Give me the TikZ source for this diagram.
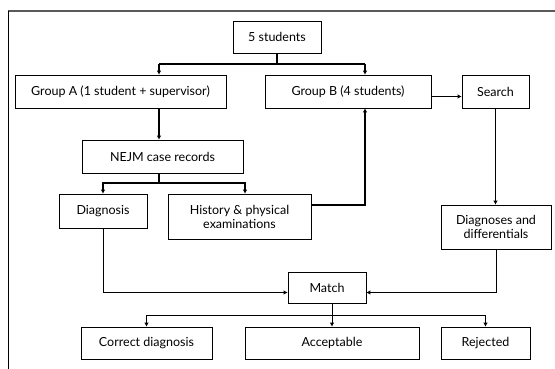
\documentclass[tikz,border=0pt]{standalone}
\usepackage{fontspec}
\setmainfont{Lato}
\usetikzlibrary{arrows.meta,shadows}
\tikzset{
	box/.style={draw, fill=white, line width=0.6pt, align=center, inner sep=1pt,
		font=\fontsize{12.5}{14}\selectfont,
		drop shadow={shadow xshift=0.9pt, shadow yshift=-0.9pt, fill=black, opacity=1}},
	heavy/.style={line width=1.7pt},
	light/.style={line width=0.8pt},
	tip/.style={-{Latex[length=4pt,width=4.5pt]}},
}
\begin{document}
\begin{tikzpicture}[x=1pt,y=-1pt]
			\useasboundingbox (0,0) rectangle (555,369);
			\draw[black!65, line width=1.2pt] (555,11) -- (8,11);
			\draw[line width=1pt] (8,11) -- (8,369);
			\node[box, minimum width=88pt, minimum height=32pt] (students) at (277,37) {5 students};
			\node[box, minimum width=211pt, minimum height=33pt] (groupA) at (120.5,91.5) {Group A (1 student + supervisor)};
			\node[box, minimum width=166pt, minimum height=33pt] (groupB) at (348,91.5) {Group B (4 students)};
			\node[box, minimum width=67pt, minimum height=33pt] (search) at (495.5,91.5) {Search};
			\node[box, minimum width=161pt, minimum height=33pt] (nejm) at (162.5,156.5) {NEJM case records};
			\node[box, minimum width=88pt, minimum height=34pt] (diag) at (103,211) {Diagnosis};
			\node[box, minimum width=143pt, minimum height=45pt] (history) at (239.5,216.5) {History \& physical\\examinations};
			\node[box, minimum width=110pt, minimum height=44pt] (diffs) at (496,227) {Diagnoses and\\differentials};
			\node[box, minimum width=78pt, minimum height=31pt] (match) at (327,287.5) {Match};
			\node[box, minimum width=131pt, minimum height=32pt] (correct) at (146.5,343) {Correct diagnosis};
			\node[box, minimum width=174pt, minimum height=32pt] (accept) at (332,343) {Acceptable};
			\node[box, minimum width=89pt, minimum height=32pt] (rejected) at (485.5,343) {Rejected};
			\coordinate (splitA) at (159,64);
			\coordinate (splitB) at (365,64);
			\coordinate (splitC) at (159,183);
			\coordinate (splitD) at (332,315);
			\draw[heavy] (students.south) |- (splitA);
			\draw[heavy] (students.south) |- (splitB);
			\draw[heavy,tip] (splitA) -- (splitA |- groupA.north);
			\draw[heavy,tip] (splitB) -- (splitB |- groupB.north);
			\draw[heavy,tip] (splitA |- groupA.south) -- (splitA |- nejm.north);
			\draw[heavy] (splitC |- nejm.south) -- (splitC);
			\draw[heavy,tip] (splitC) -| (diag.north);
			\draw[heavy,tip] (splitC) -| (245,0 |- history.north);
			\draw[heavy,tip] ([yshift=11.5pt]history.east) -| (splitB |- groupB.south);
			\draw[light,tip] ([yshift=-5pt]groupB.east) -- ([yshift=-5pt]search.west);
			\draw[light,tip] (search.south) -- (search.south |- diffs.north);
			\draw[light,tip] (diag.south) |- ([yshift=-5pt]match.west);
			\draw[light,tip] (diffs.south) |- ([yshift=-5pt]match.east);
			\draw[light] (splitD |- match.south) -- (splitD);
			\draw[light,tip] (splitD) -| (correct.north);
			\draw[light,tip] (splitD) -- (accept.north);
			\draw[light,tip] (splitD) -| (rejected.north);
		\end{tikzpicture}
\end{document}
